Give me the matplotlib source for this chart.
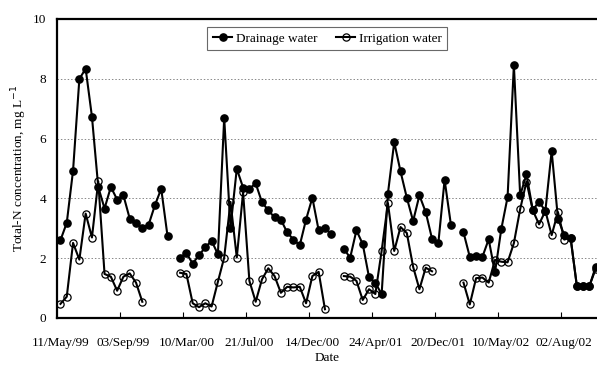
import numpy as np
import matplotlib
matplotlib.use("Agg")
import matplotlib.pyplot as plt

nan = np.nan

# sampling dates shown on the category axis (every 10th sample)
tick_labels = ["11/May/99", "03/Sep/99", "10/Mar/00", "21/Jul/00", "14/Dec/00",
               "24/Apr/01", "20/Dec/01", "10/May/02", "02/Aug/02"]

# Total-N, mg/L, one value per sample (nan = not sampled)
drainage = [2.6, 3.18, 4.93, 7.99, 8.34, 6.73, 4.38, 3.66, 4.38, 3.96,
            4.1, 3.32, 3.18, 3.01, 3.12, 3.77, 4.32, 2.74, nan, 2.02,
            2.16, 1.82, 2.1, 2.36, 2.58, 2.13, 6.69, 3.02, 4.99, 4.36,
            4.32, 4.5, 3.87, 3.6, 3.36, 3.29, 2.86, 2.62, 2.43, 3.29,
            4.02, 2.93, 3.01, 2.8, nan, 2.32, 2.01, 2.93, 2.47, 1.36,
            1.18, 0.79, 4.16, 5.88, 4.9, 4.02, 3.24, 4.1, 3.54, 2.65,
            2.49, 4.62, 3.12, nan, 2.86, 2.04, 2.07, 2.04, 2.63, 1.52,
            2.97, 4.04, 8.46, 4.1, 4.8, 3.62, 3.88, 3.58, 5.58, 3.32,
            2.77, 2.69, 1.07, 1.07, 1.07, 1.71]

irrigation = [0.47, 0.71, 2.51, 1.95, 3.49, 2.69, 4.57, 1.47, 1.38, 0.91,
              1.38, 1.49, 1.18, 0.54, nan, nan, nan, nan, nan, 1.51,
              1.47, 0.49, 0.36, 0.49, 0.38, 1.21, 2.02, 3.88, 2.02, 4.2,
              1.24, 0.54, 1.29, 1.66, 1.4, 0.84, 1.04, 1.02, 1.04, 0.49,
              1.4, 1.54, 0.29, nan, nan, 1.4, 1.38, 1.24, 0.6, 0.96,
              0.8, 2.24, 3.84, 2.24, 3.04, 2.84, 1.71, 0.96, 1.68, 1.56,
              nan, nan, nan, nan, 1.18, 0.45, 1.33, 1.35, 1.18, 1.94,
              1.88, 1.86, 2.5, 3.64, 4.56, 3.6, 3.13, 3.58, 2.77, 3.54,
              2.62, 2.69, 1.07, 1.07, 1.07, 1.65]

plt.rcParams['font.family'] = ['Liberation Serif', 'DejaVu Serif']
plt.rcParams['font.size'] = 9.5

x = np.arange(len(drainage))

fig = plt.figure(figsize=(5.97, 3.65), dpi=100)
ax = fig.add_axes([0.096, 0.129, 0.904, 0.819])

ax.plot(x, irrigation, color='black', lw=1.5, marker='o', ms=5.2,
        mfc='none', mec='black', mew=0.9, label='Irrigation water', zorder=3)
ax.plot(x, drainage, color='black', lw=1.5, marker='o', ms=5.2,
        mfc='black', mec='black', label='Drainage water', zorder=4)

ax.set_xlim(-0.5, 85.2)
ax.set_ylim(0, 10)

# tick marks on category boundaries, labels centred on the sample
ax.set_xticks(np.arange(9.5, 86, 10))
ax.set_xticklabels([])
ax.set_xticks(np.arange(0, 81, 10), minor=True)
ax.set_xticklabels(tick_labels, minor=True)
ax.tick_params(axis='x', which='major', direction='in', length=4, width=0.8)
ax.tick_params(axis='x', which='minor', length=0, pad=14)

ax.set_yticks([0, 2, 4, 6, 8, 10])
ax.tick_params(axis='y', length=0, pad=8)
ax.yaxis.grid(True, linestyle=(0, (1.5, 2)), color='#888888', lw=0.7)
ax.set_axisbelow(True)

for s in ['left', 'bottom', 'top']:
    ax.spines[s].set_linewidth(1.6)
ax.spines['right'].set_visible(False)

ax.set_xlabel('Date', labelpad=2)
ax.set_ylabel('Total-N concentration, mg L$^{-1}$', labelpad=3)

h, l = ax.get_legend_handles_labels()
leg = ax.legend(h[::-1], l[::-1], loc='upper center', bbox_to_anchor=(0.5, 0.972),
                ncol=2, frameon=True, fancybox=False, edgecolor='#444444',
                handlelength=1.5, handletextpad=0.25, columnspacing=1.4,
                borderpad=0.4, borderaxespad=0)
leg.get_frame().set_linewidth(0.8)

fig.savefig('out.png', dpi=100)
